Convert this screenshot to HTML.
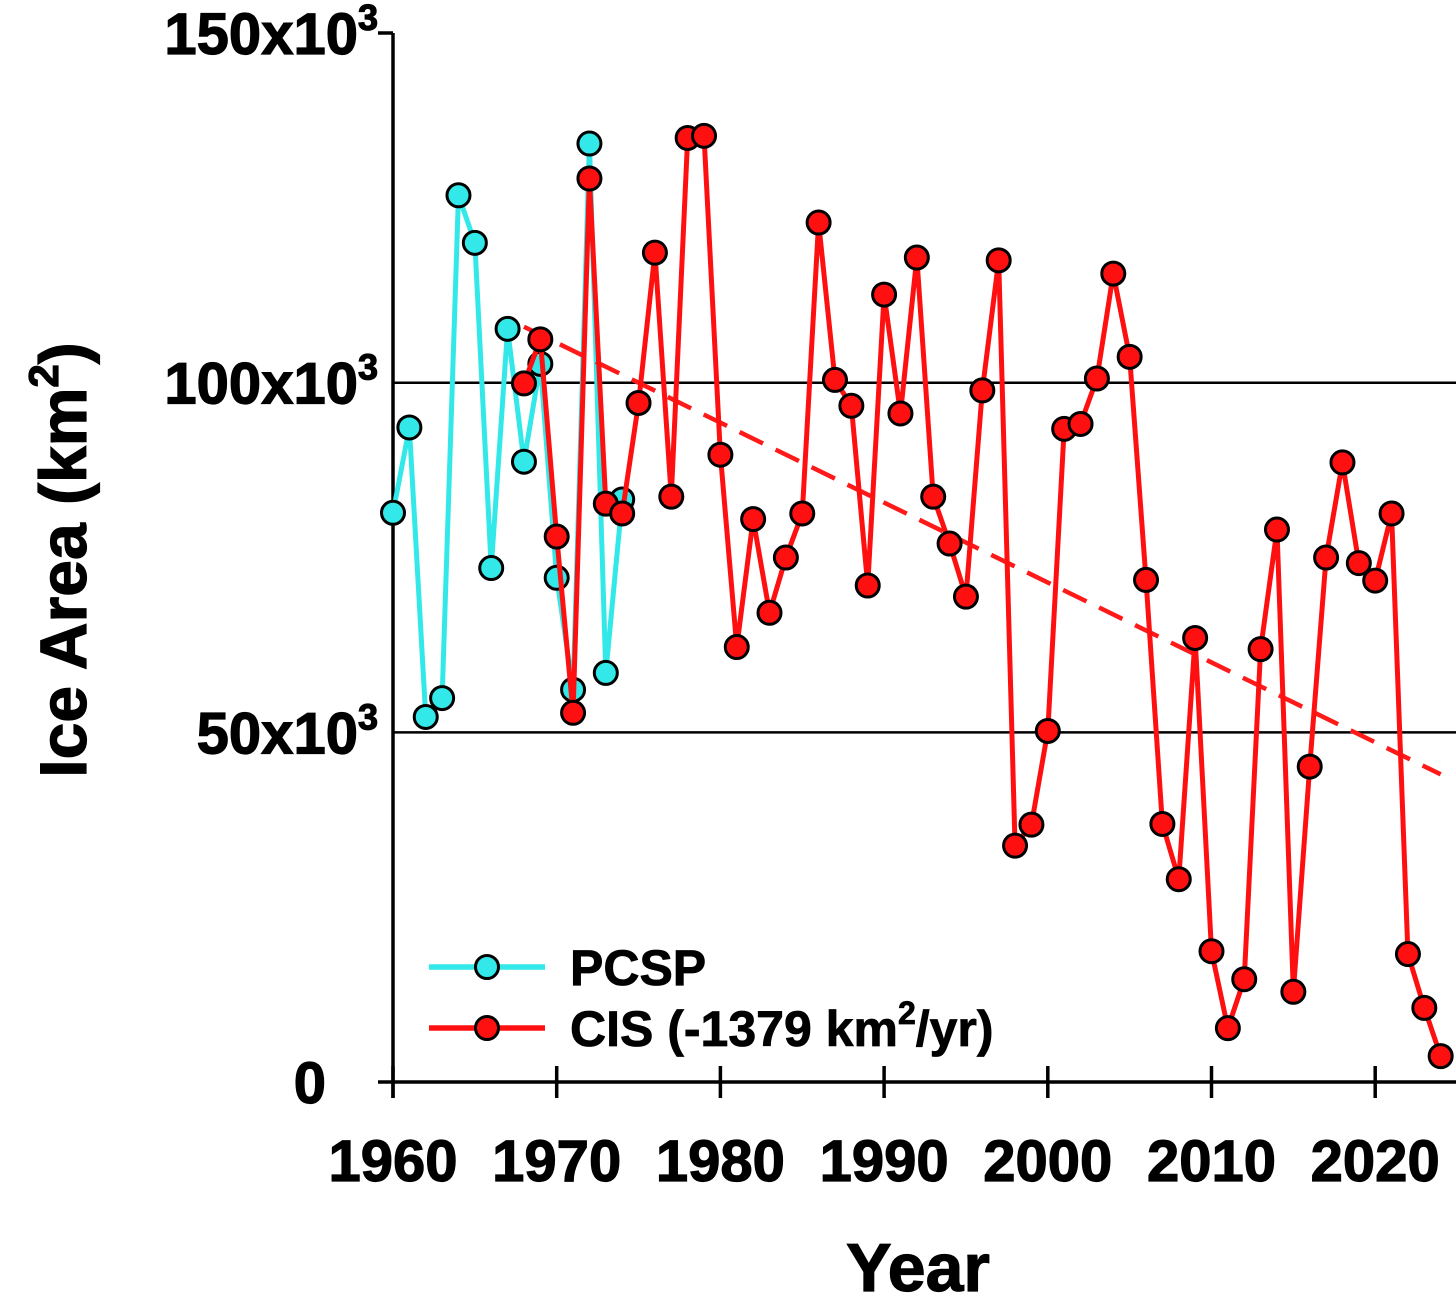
<!DOCTYPE html>
<html><head><meta charset="utf-8"><style>
html,body{margin:0;padding:0;background:#fff}
svg{display:block;font-family:"Liberation Sans",Arial,sans-serif;font-weight:bold}
</style></head><body>
<svg id="chart" width="1456" height="1296" viewBox="0 0 1456 1296"></svg>
<script>
const pcspYears=[1960,1961,1962,1963,1964,1965,1966,1967,1968,1969,1970,1971,1972,1973,1974];
const pcspValues=[81.4,93.6,52.2,54.9,126.8,120,73.5,107.7,88.7,102.7,72.1,56.1,134.2,58.5,83.3];
const cisYears=[1968,1969,1970,1971,1972,1973,1974,1975,1976,1977,1978,1979,1980,1981,1982,1983,1984,1985,1986,1987,1988,1989,1990,1991,1992,1993,1994,1995,1996,1997,1998,1999,2000,2001,2002,2003,2004,2005,2006,2007,2008,2009,2010,2011,2012,2013,2014,2015,2016,2017,2018,2019,2020,2021,2022,2023,2024];
const cisValues=[99.9,106.2,78,52.8,129.2,82.7,81.3,97.1,118.6,83.7,135,135.3,89.7,62.2,80.5,67.1,75,81.3,122.9,100.4,96.7,71,112.6,95.6,117.9,83.7,77,69.4,98.9,117.5,33.8,36.8,50.2,93.4,94.1,100.6,115.6,103.7,71.8,36.9,29,63.5,18.7,7.7,14.7,61.9,79,12.9,45.1,75,88.6,74.2,71.7,81.3,18.3,10.6,3.7];
const trendYears=[1968,2024];
const trendValues=[108,44];
const xTicks=[1960,1970,1980,1990,2000,2010,2020];
const yTicks=[0,50,100,150];
const yTickLabels=["0","50x10","100x10","150x10"];

const NS="http://www.w3.org/2000/svg";
const svg=document.getElementById('chart');
const X=y=>393+(y-1960)*16.37;
const Y=v=>1082-v*6.993;
function mk(tag,attrs,parent){const e=document.createElementNS(NS,tag);for(const k in attrs)e.setAttribute(k,attrs[k]);(parent||svg).appendChild(e);return e;}

yTicks.forEach(v=>{
  if(v===50||v===100){const g=mk('line',{x1:393,x2:1456,y1:Y(v),y2:Y(v),stroke:'#000','stroke-width':2.5});
  
  }
});
let ax=mk('line',{x1:393,x2:393,y1:33,y2:1098,stroke:'#000','stroke-width':3.5});


ax=mk('line',{x1:378,x2:1456,y1:1082,y2:1082,stroke:'#000','stroke-width':3.5});


ax=mk('line',{x1:378,x2:393,y1:33,y2:33,stroke:'#000','stroke-width':3.5});
xTicks.forEach(t=>{
  const l=mk('line',{x1:X(t),x2:X(t),y1:1066,y2:1098,stroke:'#000','stroke-width':3.5});
  
  
  const tx=mk('text',{x:X(t),y:1181,'text-anchor':'middle','font-size':58,'stroke':'#000','stroke-width':1.2});
  tx.textContent=t;
  
  
});
yTicks.forEach((v,i)=>{
  const tx=mk('text',{x:i===0?326:378,y:Y(v)+21,'text-anchor':'end','font-size':58,'stroke':'#000','stroke-width':1.2});
  tx.textContent=yTickLabels[i];
  if(i>0){const s=mk('tspan',{'font-size':36,dy:-24},tx);s.textContent='3';}
  
  
});
let t=mk('text',{x:918,y:1291,'text-anchor':'middle','font-size':68,'stroke':'#000','stroke-width':1.2});
t.textContent='Year';


t=mk('text',{transform:'translate(86,560) rotate(-90)','text-anchor':'middle','font-size':66,'stroke':'#000','stroke-width':1.2});
t.textContent='Ice Area (km';
let sp=mk('tspan',{'font-size':42,dy:-28},t);sp.textContent='2';
sp=mk('tspan',{dy:28},t);sp.textContent=')';



function series(xs,vs,color,name){
  const p=mk('polyline',{points:xs.map((x,i)=>X(x)+','+Y(vs[i])).join(' '),fill:'none',stroke:color,'stroke-width':5,'stroke-linejoin':'round'});
  
  
  xs.forEach((x,i)=>{
    const c=mk('circle',{cx:X(x),cy:Y(vs[i]),r:11.5,fill:color,stroke:'#000','stroke-width':3});
    
    
  });
}
series(pcspYears,pcspValues,'#33e8e8','pcsp');
const tr=mk('line',{x1:X(trendYears[0]),y1:Y(trendValues[0]),x2:X(trendYears[1]),y2:Y(trendValues[1]),stroke:'#ff1a1a','stroke-width':4.5,'stroke-dasharray':'26,14'});


series(cisYears,cisValues,'#ff1010','cis');

const lg=mk('g',{});


[['#33e8e8',967,'PCSP'],['#ff1010',1028,'CIS (-1379 km']].forEach((d,i)=>{
  mk('line',{x1:429,x2:545,y1:d[1],y2:d[1],stroke:d[0],'stroke-width':5.5},lg);
  mk('circle',{cx:487,cy:d[1],r:11.5,fill:d[0],stroke:'#000','stroke-width':3},lg);
  const tx=mk('text',{x:570,y:d[1]+18,'font-size':50,'stroke':'#000','stroke-width':0.8},lg);
  tx.textContent=d[2];
  if(i===1){let a=mk('tspan',{'font-size':32,dy:-22},tx);a.textContent='2';a=mk('tspan',{dy:22},tx);a.textContent='/yr)';}
  
  
});
</script>
</body></html>
